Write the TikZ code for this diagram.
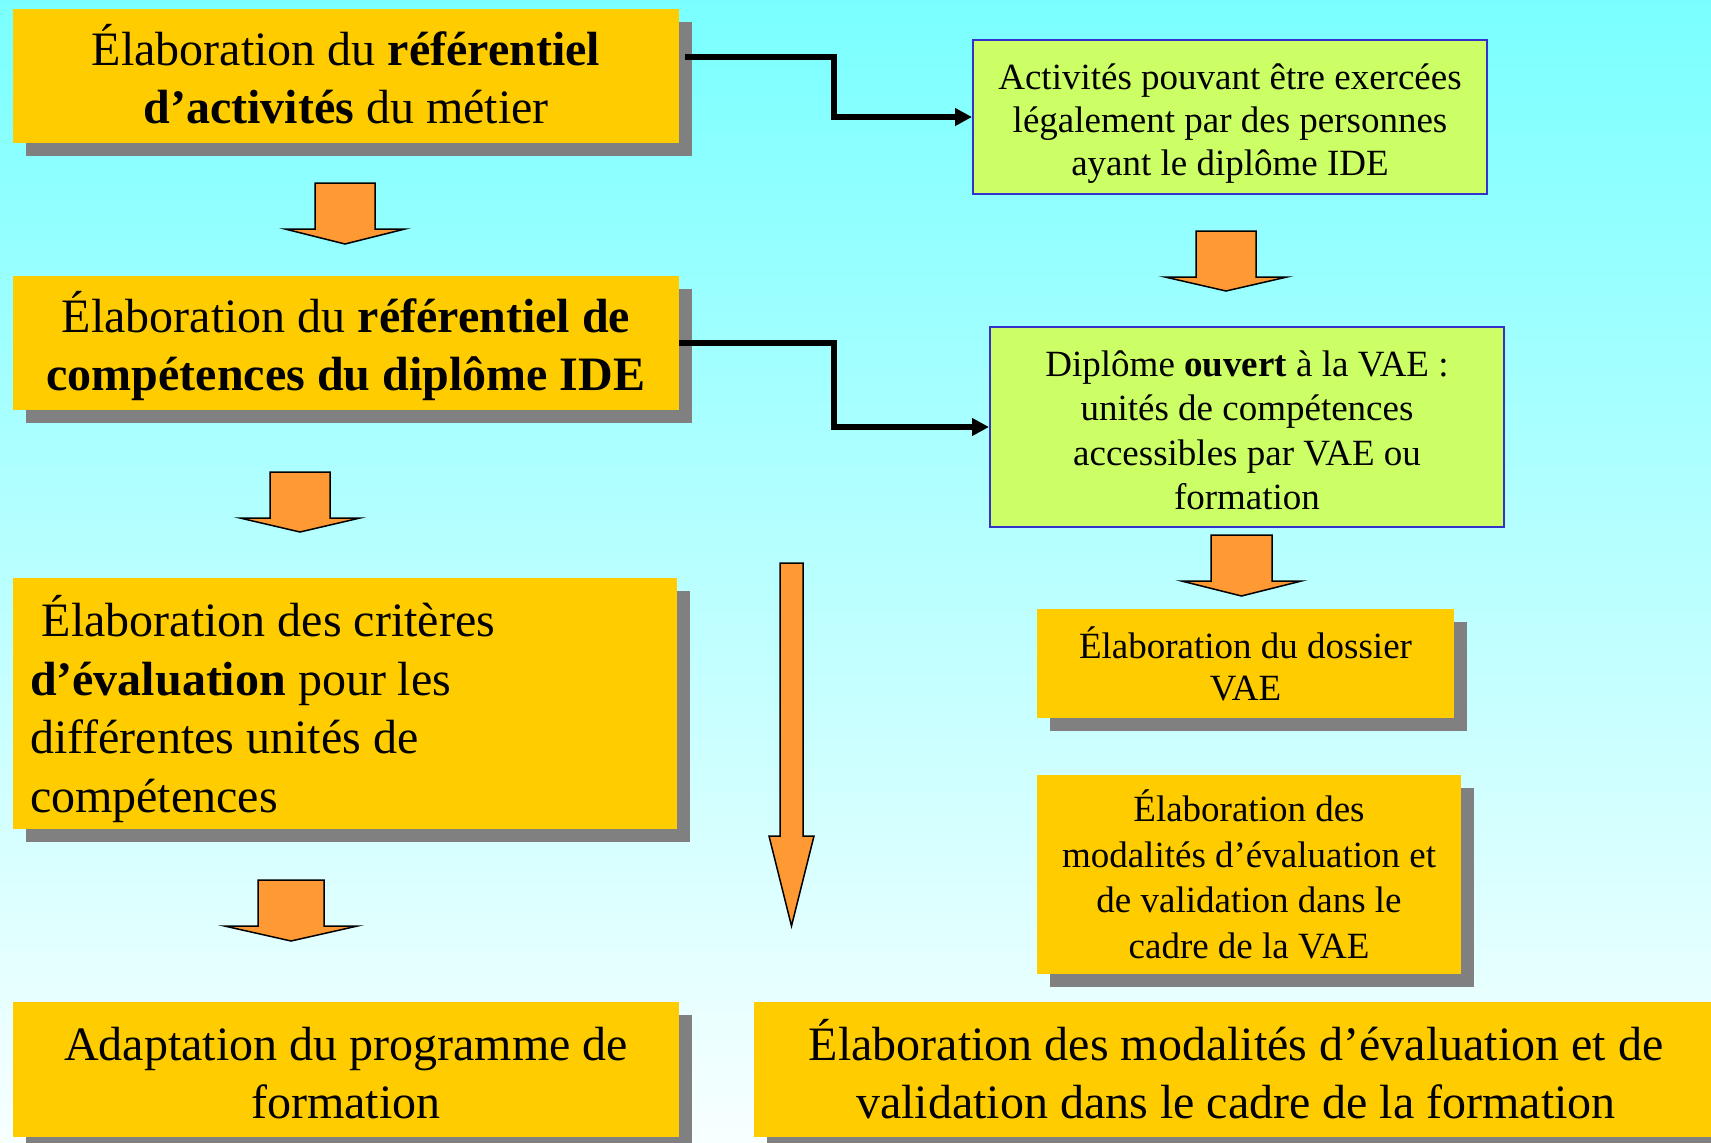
\documentclass[tikz,border=0pt]{standalone}
\usepackage{fontspec}
\setmainfont{Liberation Serif}
\usetikzlibrary{arrows.meta,shadows}
\definecolor{boxyellow}{RGB}{255,204,0}
\definecolor{shadowgray}{RGB}{128,128,128}
\definecolor{arroworange}{RGB}{255,153,51}
\definecolor{boxgreen}{RGB}{204,255,102}
\definecolor{boxblue}{RGB}{51,51,204}
\definecolor{bgtop}{RGB}{122,255,255}
\definecolor{bgbottom}{RGB}{248,255,255}
\newcommand\myblockarrow[6]{%
  \draw[blockarr] (#1-#5,-#2) -- (#1+#5,-#2) -- (#1+#5,-#3) -- (#1+#6,-#3) -- (#1,-#4) -- (#1-#6,-#3) -- (#1-#5,-#3) -- cycle;}
\begin{document}
\begin{tikzpicture}[x=1pt,y=1pt,
  ybox/.style={fill=boxyellow, inner sep=0pt, general shadow={shadow xshift=13pt, shadow yshift=-13pt, fill=shadowgray}},
  gbox/.style={fill=boxgreen, draw=boxblue, line width=2pt, inner sep=0pt},
  txt/.style={inner sep=0pt, align=center},
  bigfont/.style={font=\fontsize{48}{58}\selectfont},
  smallfont/.style={font=\fontsize{37}{43}\selectfont},
  conn/.style={line width=5.5pt, -{Triangle[length=17pt,width=17pt]}},
  blockarr/.style={fill=arroworange, draw=black, line width=1.5pt, line join=miter}
]
\useasboundingbox (0,0) rectangle (1711,-1143);
\clip (0,0) rectangle (1711,-1143);
\shade[top color=bgtop, bottom color=bgbottom] (0,0) rectangle (1711,-1143);

% left column boxes
\node[ybox,minimum width=666pt,minimum height=134pt] (B1) at (346,-76) {};
\node[ybox,minimum width=666pt,minimum height=134pt] (B2) at (346,-343) {};
\node[ybox,minimum width=664pt,minimum height=251pt] (B3) at (345,-703.5) {};
\node[ybox,minimum width=666pt,minimum height=135pt] (B4) at (346,-1069.5) {};
\node[ybox,minimum width=964pt,minimum height=135pt] (B5) at (1236,-1069.5) {};
% right column boxes
\node[gbox,minimum width=514pt,minimum height=154pt] (G1) at (1230,-117) {};
\node[gbox,minimum width=514pt,minimum height=200pt] (G2) at (1247,-427) {};
\node[ybox,minimum width=417pt,minimum height=109pt] (Y3) at (1245.5,-663.5) {};
\node[ybox,minimum width=424pt,minimum height=199pt] (Y4) at (1249,-874.5) {};

% texts
\node[txt,bigfont] (B1t) at ([yshift=2pt]B1.center)
  {Élaboration du \textbf{référentiel}\\\textbf{d’activités} du métier};
\node[txt,bigfont] (B2t) at ([yshift=-3pt]B2.center)
  {Élaboration du \textbf{référentiel de}\\\textbf{compétences du diplôme IDE}};
\node[inner sep=0pt,font=\fontsize{48}{58.5}\selectfont,text width=630pt,align=flush left] (B3t) at ([yshift=-5.5pt]B3.center)
  {\hspace*{12pt}Élaboration des critères\\\textbf{d’évaluation} pour les\\différentes unités de\\compétences};
\node[txt,bigfont] (B4t) at ([yshift=-4pt]B4.center)
  {Adaptation du programme de\\formation};
\node[txt,bigfont] (B5t) at (B5.center)
  {Élaboration des modalités d’évaluation et de\\validation dans le cadre de la formation};
\node[txt,smallfont] (G1t) at ([yshift=-6.5pt]G1.center)
  {Activités pouvant être exercées\\légalement par des personnes\\ayant le diplôme IDE};
\node[txt,font=\fontsize{37}{44.5}\selectfont] (G2t) at ([yshift=-3.5pt]G2.center)
  {Diplôme \textbf{ouvert} à la VAE :\\unités de compétences\\accessibles par VAE ou\\formation};
\node[txt,font=\fontsize{37}{42}\selectfont] (Y3t) at (Y3.center)
  {Élaboration du dossier\\VAE};
\node[txt,font=\fontsize{37}{45.5}\selectfont] (Y4t) at (Y4.center)
  {Élaboration des\\modalités d’évaluation et\\de validation dans le\\cadre de la VAE};

% block arrows
\myblockarrow{345}{183}{229}{244}{30}{60}
\myblockarrow{300}{472}{518}{532}{30}{60}
\myblockarrow{291}{880}{926}{941}{33}{66.5}
\myblockarrow{1226}{231}{277}{291}{30}{61}
\myblockarrow{1241.5}{535}{581}{596}{30.5}{60}
\myblockarrow{791.5}{563}{836}{926}{11.5}{22.5}

% connectors
\coordinate (k1) at (834,-57);
\coordinate (k2) at (834,-343);
\draw[conn] ([xshift=6pt,yshift=19pt]B1.east) -- (k1) |- (G1.west);
\draw[conn] (B2.east) -- (k2) |- (G2.west);
\end{tikzpicture}
\end{document}
